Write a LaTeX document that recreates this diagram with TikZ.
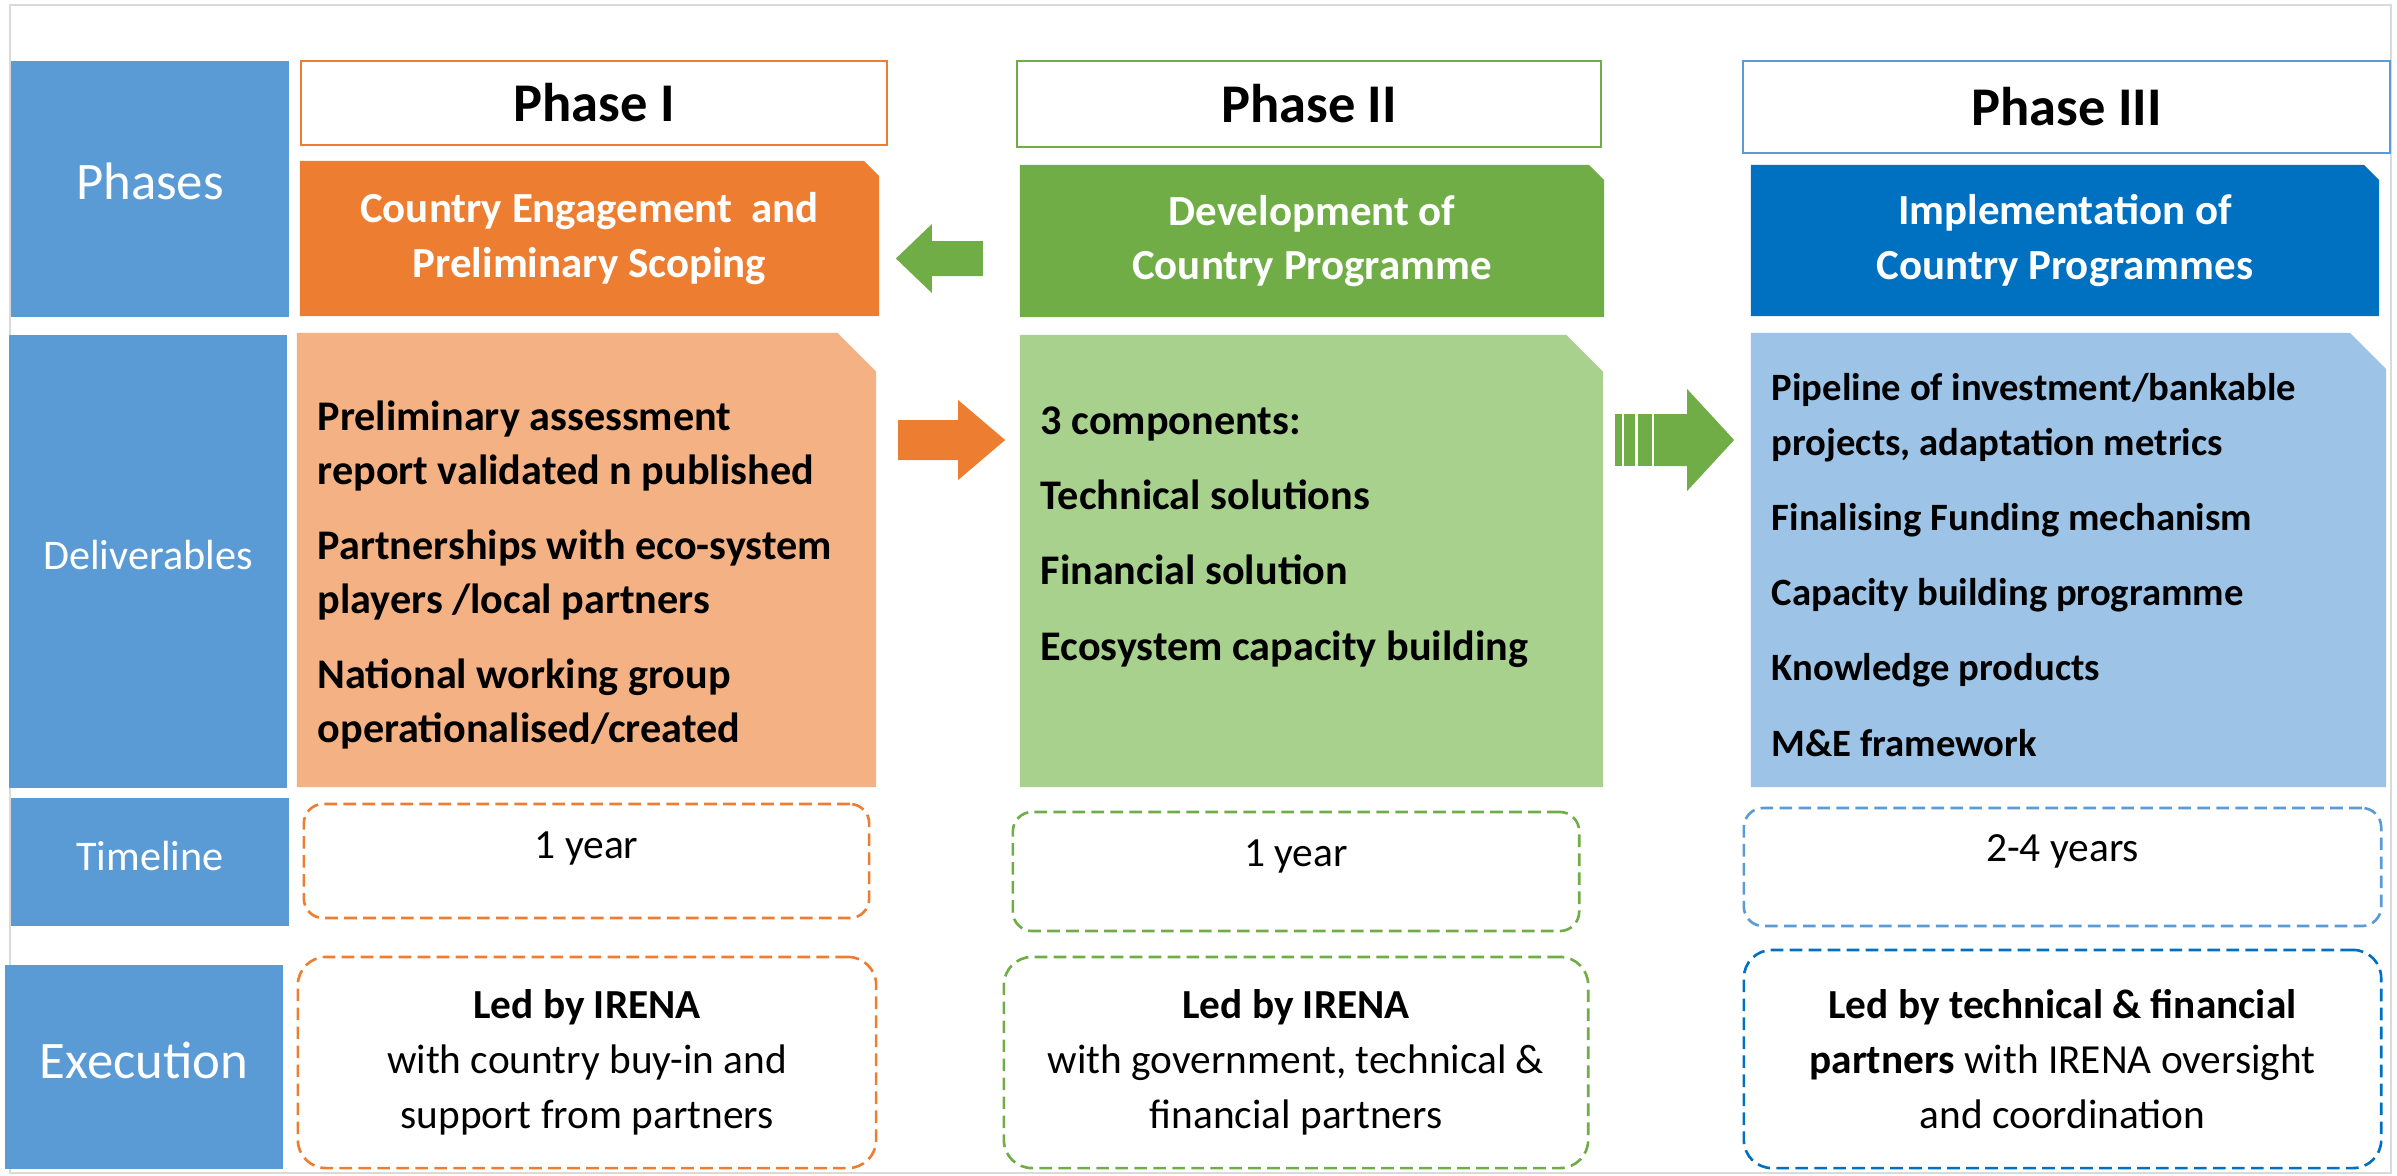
\documentclass[tikz,border=0pt]{standalone}
\usepackage{fontspec}
\setmainfont{Carlito}
\usetikzlibrary{calc}
\definecolor{rowblue}{HTML}{5B9BD5}
\definecolor{ph1dark}{HTML}{ED7D31}
\definecolor{ph1light}{HTML}{F4B183}
\definecolor{ph2dark}{HTML}{70AD47}
\definecolor{ph2light}{HTML}{A9D18E}
\definecolor{ph3dark}{HTML}{0070C0}
\definecolor{ph3light}{HTML}{9DC3E6}
\definecolor{framegray}{HTML}{DADADA}

\newcommand\bigrowfont{\fontsize{15}{18}\selectfont}
\newcommand\smallrowfont{\fontsize{12}{14}\selectfont}
\newcommand\titlefont{\fontsize{15.5}{18}\selectfont\bfseries}
\newcommand\hdfont{\fontsize{12.2}{15.4}\selectfont\bfseries}
\newcommand\delfont{\fontsize{11}{15.4}\selectfont\bfseries}
\newcommand\tlfont{\fontsize{11.8}{14}\selectfont}
\newcommand\exfont{\fontsize{11.75}{15.6}\selectfont}

\tikzset{
  rowlabel/.style={fill=rowblue, text=white, minimum width=2.78cm, inner sep=0pt, text depth=0pt},
  phasetitle/.style={draw=#1, line width=0.7pt, fill=white, inner sep=0pt, font=\titlefont},
  snipbox/.style 2 args={inner sep=0pt, path picture={
      \fill[#1] (path picture bounding box.south west) |- ([xshift=-#2]path picture bounding box.north east)
        -- ([yshift=-#2]path picture bounding box.north east) -- (path picture bounding box.south east) -- cycle;}},
  deltext/.style={anchor=west, align=left, inner sep=0pt, font=\delfont},
  dashbox/.style 2 args={draw=#1, dash pattern=on 3.6pt off 1.8pt, line width=0.75pt, rounded corners=#2, inner sep=0pt},
}

\begin{document}
\begin{tikzpicture}[x=0.01cm, y=-0.01cm]
    \useasboundingbox (0,0) rectangle (2397,1175);
    \draw[framegray, line width=0.6pt] (10,5) rectangle (2391,1173);

    % row labels
    \node[rowlabel, minimum height=2.56cm, text height=5.7pt, font=\bigrowfont] (rphases) at (150,189) {Phases};
    \node[rowlabel, minimum height=4.53cm, text height=4.3pt, font=\smallrowfont] (rdeliv) at (148,561.5) {Deliverables};
    \node[rowlabel, minimum height=1.28cm, text height=4.6pt, font=\smallrowfont] (rtime) at (150,862) {Timeline};
    \node[rowlabel, minimum height=2.04cm, text height=6.3pt, font=\bigrowfont] (rexec) at (144,1067) {Execution};

    % phase titles
    \node[phasetitle=ph1dark, minimum width=5.86cm, minimum height=0.84cm] (t1) at (594,103) {Phase I};
    \node[phasetitle=ph2dark, minimum width=5.84cm, minimum height=0.86cm] (t2) at (1309,104) {Phase II};
    \node[phasetitle=rowblue, line width=0.5pt, minimum width=6.47cm, minimum height=0.92cm] (t3) at (2066.5,107) {Phase III};

    % phase headers
    \node[snipbox={ph1dark}{4.3pt}, minimum width=5.79cm, minimum height=1.55cm, text=white, font=\hdfont, align=center]
        (h1) at (589.5,238.5) {Country Engagement\ \ and\\Preliminary Scoping};
    \node[snipbox={ph2dark}{4.3pt}, minimum width=5.84cm, minimum height=1.52cm, text=white, font=\hdfont, align=center]
        (h2) at (1312,241) {Development of\\Country Programme};
    \node[snipbox={ph3dark}{4.3pt}, minimum width=6.28cm, minimum height=1.51cm, text=white, font=\hdfont, align=center]
        (h3) at (2065,240.5) {Implementation of\\Country Programmes};

    % deliverables
    \node[snipbox={ph1light}{11pt}, minimum width=5.79cm, minimum height=4.54cm] (d1) at (586.5,560) {};
    \node[snipbox={ph2light}{10.5pt}, minimum width=5.83cm, minimum height=4.52cm] (d2) at (1311.5,561) {};
    \node[snipbox={ph3light}{10.3pt}, minimum width=6.35cm, minimum height=4.54cm] (d3) at (2068.5,560) {};

    \node[deltext, font=\fontsize{12}{15.4}\selectfont\bfseries] (d1txt) at (317,575) {Preliminary assessment\\report validated n published\\[6pt]
        Partnerships with eco-system\\players /local partners\\[6pt]
        National working group\\operationalised/created};
    \node[deltext, font=\fontsize{12}{15.4}\selectfont\bfseries] (d2txt) at (1040,537) {3 components:\\[6pt]Technical solutions\\[6pt]
        Financial solution\\[6pt]Ecosystem capacity building};
    \node[deltext] (d3txt) at (1771,565) {Pipeline of investment/bankable\\projects, adaptation metrics\\[6pt]
        Finalising Funding mechanism\\[6pt]Capacity building programme\\[6pt]
        Knowledge products\\[6pt]M\&E framework};

    % timeline
    \node[dashbox={ph1dark}{5.5pt}, minimum width=5.65cm, minimum height=1.14cm] (tl1) at (586.5,861) {};
    \node[dashbox={ph2dark}{5.5pt}, minimum width=5.66cm, minimum height=1.19cm] (tl2) at (1296,871.5) {};
    \node[dashbox={rowblue}{5.5pt}, minimum width=6.37cm, minimum height=1.18cm] (tl3) at (2062.5,867) {};
    \node[anchor=base, font=\tlfont] (tl1txt) at ($(tl1.north)+(0,56)$) {1 year};
    \node[anchor=base, font=\tlfont] (tl2txt) at ($(tl2.north)+(0,56)$) {1 year};
    \node[anchor=base, font=\tlfont] (tl3txt) at ($(tl3.north)+(0,55)$) {2-4 years};

    % execution
    \node[dashbox={ph1dark}{8pt}, minimum width=5.78cm, minimum height=2.11cm, align=center, font=\exfont]
        (ex1) at (587,1062.5) {\textbf{Led by IRENA}\\with country buy-in and\\support from partners};
    \node[dashbox={ph2dark}{8pt}, minimum width=5.84cm, minimum height=2.11cm, align=center, font=\exfont]
        (ex2) at (1296,1062.5) {\textbf{Led by IRENA}\\with government, technical \&\\financial partners};
    \node[dashbox={ph3dark}{8pt}, minimum width=6.37cm, minimum height=2.18cm, align=center, font=\exfont]
        (ex3) at (2062.5,1059) {\textbf{Led by technical \& financial}\\\textbf{partners} with IRENA oversight\\and coordination};

    % block arrows
    \fill[ph2dark] ($(h1.east)+(16,20)$) -- ++(36,-34.5) -- ++(0,17) -- ++(51,0) -- ++(0,35) -- ++(-51,0) -- ++(0,17) -- cycle;
    \fill[ph1dark] ($(d2.west)+(-14,-121)$) -- ++(-47,-40) -- ++(0,20) -- ++(-60,0) -- ++(0,40) -- ++(60,0) -- ++(0,20) -- cycle;
    \coordinate (fwdtip) at ($(d3.west)+(-16,-120)$);
    \fill[ph2dark] (fwdtip) -- ++(-47,-51) -- ++(0,25) -- ++(-33,0) -- ++(0,52) -- ++(33,0) -- ++(0,25) -- cycle;
    \foreach \a/\w in {-96/14,-110/11,-119/7}
        \fill[ph2dark] ($(fwdtip)+(\a,-26)$) rectangle ++(\w,52);
\end{tikzpicture}
\end{document}
